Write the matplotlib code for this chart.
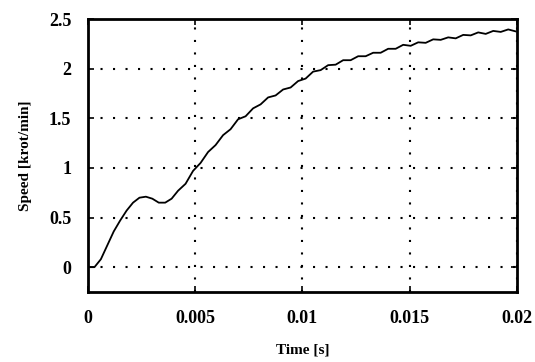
import matplotlib
matplotlib.use('Agg')
import matplotlib.pyplot as plt

# data
tiempo = [0, 0.0003, 0.0006, 0.0009, 0.0012, 0.0015, 0.0018, 0.0021, 0.0024, 0.0027,
          0.003, 0.0033, 0.0036, 0.0039,
          0.0042, 0.00455, 0.0049, 0.00525, 0.0056, 0.00595, 0.0063, 0.00665, 0.0070,
          0.00735, 0.0077, 0.00805, 0.0084, 0.00875, 0.0091, 0.00945, 0.0098, 0.01015,
          0.0105, 0.01085, 0.0112, 0.01155, 0.0119, 0.01225, 0.0126, 0.01295, 0.0133,
          0.01365, 0.014, 0.01435, 0.0147, 0.01505, 0.0154, 0.01575, 0.0161, 0.01645,
          0.0168, 0.01715, 0.0175, 0.01785, 0.0182, 0.01855, 0.0189, 0.01925, 0.0196,
          0.01995]
velocidade = [0.0, 0.0, 0.08, 0.22, 0.36, 0.47, 0.57, 0.65, 0.70, 0.71,
              0.69, 0.65, 0.65, 0.69,
              0.77, 0.84, 0.97, 1.05, 1.16, 1.23, 1.33, 1.39, 1.49, 1.52, 1.60, 1.64,
              1.71, 1.73, 1.79, 1.81, 1.875, 1.90, 1.97, 1.985, 2.035, 2.04, 2.085,
              2.085, 2.125, 2.125, 2.16, 2.16, 2.20, 2.20, 2.24, 2.23, 2.265, 2.26,
              2.295, 2.29, 2.315, 2.305, 2.34, 2.335, 2.365, 2.35, 2.38, 2.37, 2.395,
              2.375]

xticks = [0, 0.005, 0.01, 0.015, 0.02]
xtick_labels = ['0', '0.005', '0.01', '0.015', '0.02']
yticks = [0, 0.5, 1, 1.5, 2, 2.5]
ytick_labels = ['0', '0.5', '1', '1.5', '2', '2.5']

plt.rcParams['font.family'] = ['Liberation Serif', 'DejaVu Serif']

fig = plt.figure(figsize=(5.35, 3.62), dpi=100)
ax = fig.add_axes([0.1645, 0.1934, 0.8015, 0.7541])

ax.plot(tiempo, velocidade, color='black', linewidth=1.3)

ax.set_xlim(0, 0.02)
ax.set_ylim(-0.25, 2.5)
ax.set_xticks(xticks)
ax.set_xticklabels(xtick_labels, fontsize=13, fontweight='bold')
ax.set_yticks(yticks)
ax.set_yticklabels(ytick_labels, fontsize=13, fontweight='bold')
ax.tick_params(direction='in', length=4, width=1.2, top=True, right=True)
ax.tick_params(axis='x', pad=13)
ax.tick_params(axis='y', pad=12)

ax.grid(True, color='black', linestyle=(0, (1, 5)), linewidth=1.5)
for s in ax.spines.values():
    s.set_linewidth(2)

ax.set_xlabel('Time [s]', fontsize=11, fontweight='bold', labelpad=12)
ax.set_ylabel('Speed [krot/min]', fontsize=11, fontweight='bold', labelpad=12)

plt.savefig('out.png', dpi=100)
plt.close()
